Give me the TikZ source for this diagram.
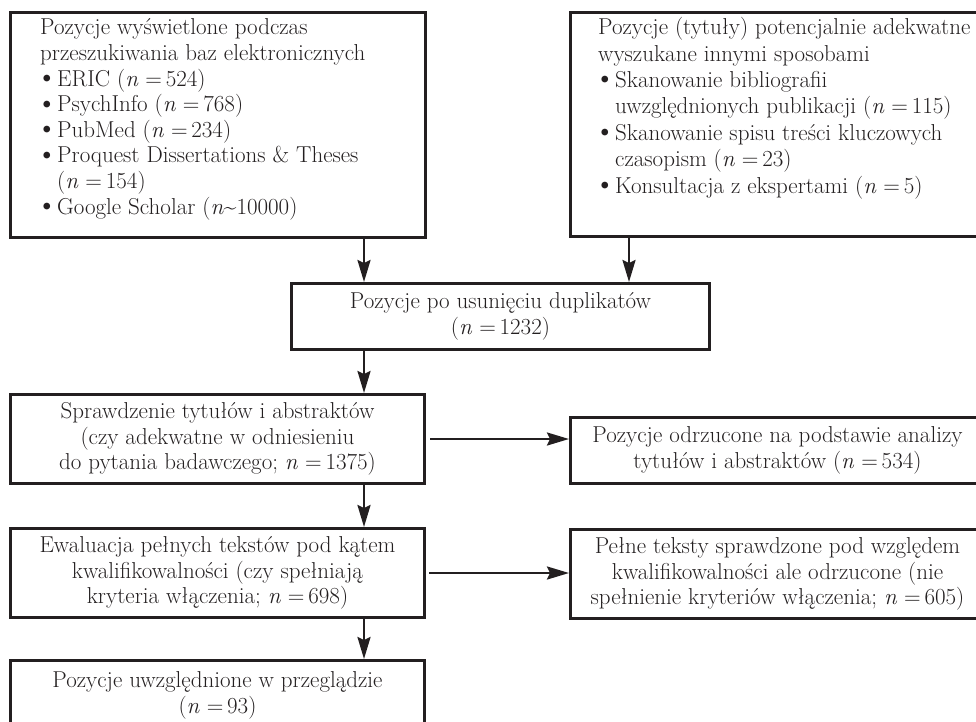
\documentclass[tikz,border=0pt]{standalone}
\usetikzlibrary{arrows.meta}
\definecolor{ink}{RGB}{35,31,32}
\newcommand{\bul}{\makebox[17pt][l]{\hspace*{-4pt}\makebox[0pt][l]{\raisebox{-0.5pt}{\scalebox{1.3}{\textbullet}}}}}
\newcommand{\ind}{\hspace*{17pt}}
\newcommand{\nn}{\textit{n}}
\begin{document}
\begin{tikzpicture}[x=1pt,y=-1pt,
  every node/.style={text=ink},
  box/.style={draw=ink, line width=3pt, rectangle, inner sep=0pt, anchor=north west, align=center,
    font=\fontsize{23}{25.6}\selectfont},
  txt/.style={anchor=base west, align=left, inner sep=0pt},
  arr/.style={draw=ink, line width=2.5pt, -{Stealth[length=22pt,width=13pt,inset=3pt]}}]
\useasboundingbox (0,0) rectangle (976,721);
\clip (0,0) rectangle (976,721);
\coordinate (colL) at (364,0);
\coordinate (colR) at (629,0);
% top boxes
\node[box, minimum width=415pt, minimum height=225pt] (A) at (9,11) {};
\node[box, minimum width=414pt, minimum height=224pt] (B) at (569,11) {};
\node[txt, font=\fontsize{23}{25.6}\selectfont] (At) at (40,214) {Pozycje wyświetlone podczas\\
przeszukiwania baz elektronicznych\\
\bul ERIC (\nn{} =\,524)\\
\bul PsychInfo (\nn{} =\,768)\\
\bul PubMed (\nn{} =\,234)\\
\bul Proquest Dissertations \& Theses\\
\ind(\nn{} =\,154)\\
\bul Google Scholar (\nn\textasciitilde10000)};
\node[txt, font=\fontsize{23}{26.4}\selectfont] (Bt) at (598,193) {Pozycje (tytuły) potencjalnie adekwatne\\
wyszukane innymi sposobami\\
\bul Skanowanie bibliografii\\
\ind uwzględnionych publikacji (\nn{} =\,115)\\
\bul Skanowanie spisu treści kluczowych\\
\ind czasopism (\nn{} =\,23)\\
\bul Konsultacja z ekspertami (\nn{} =\,5)};
% middle
\node[box, minimum width=418pt, minimum height=66pt] (C) at (290,282) {Pozycje po usunięciu duplikatów\\(\nn{} =\,1232)};
\node[box, minimum width=414pt, minimum height=89pt] (D) at (9,393) {Sprawdzenie tytułów i abstraktów\\(czy adekwatne w odniesieniu\\do pytania badawczego; \nn{} =\,1375)};
\node[box, minimum width=414pt, minimum height=66pt] (E) at (569,416) {Pozycje odrzucone na podstawie analizy\\tytułów i abstraktów (\nn{} =\,534)};
\node[box, minimum width=414pt, minimum height=89pt] (F) at (9,527) {Ewaluacja pełnych tekstów pod kątem\\kwalifikowalności (czy spełniają\\kryteria włączenia; \nn{} =\,698)};
\node[box, minimum width=414pt, minimum height=89pt] (G) at (569,528) {Pełne teksty sprawdzone pod względem\\kwalifikowalności ale odrzucone (nie\\spełnienie kryteriów włączenia; \nn{} =\,605)};
\node[box, minimum width=414pt, minimum height=70pt] (H) at (9,659) {Pozycje uwzględnione w przeglądzie\\(\nn{} =\,93)};
% connectors
\draw[arr] (A.south -| colL) -- (C.north -| colL);
\draw[arr] (B.south -| colR) -- (C.north -| colR);
\draw[arr] (C.south -| colL) -- (D.north -| colL);
\draw[arr] (D.south -| colL) -- (F.north -| colL);
\draw[arr] (F.south -| colL) -- (H.north -| colL);
\draw[arr] ([xshift=4pt]D.east) -- (D.east -| E.west);
\draw[arr] ([xshift=3pt]F.east) -- (F.east -| G.west);
\end{tikzpicture}
\end{document}
